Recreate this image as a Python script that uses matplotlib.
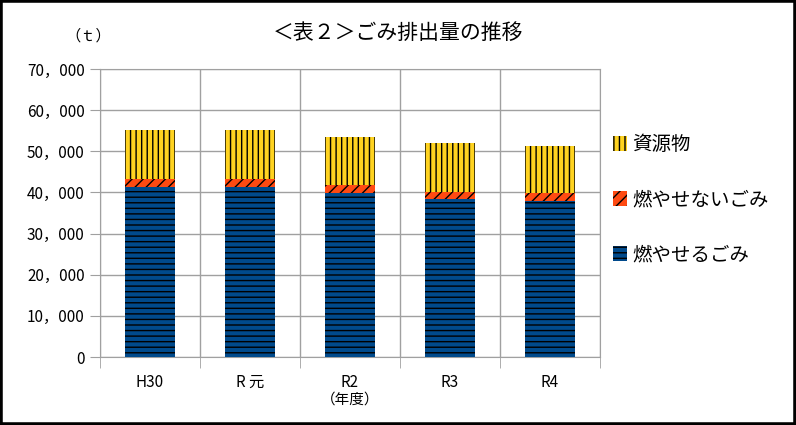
import numpy as np
import matplotlib
matplotlib.use("Agg")
import matplotlib.pyplot as plt
import matplotlib.patches as mpatches
from matplotlib.ticker import FuncFormatter, FixedLocator

plt.rcParams["font.family"] = ["Noto Sans CJK JP", "DejaVu Sans"]
plt.rcParams["hatch.linewidth"] = 1.0

# データ（t）
years = ["H30", "R 元", "R2", "R3", "R4"]
moyaseru = [41400, 41400, 39900, 38400, 37900]      # 燃やせるごみ
moyasenai = [1800, 1800, 1900, 1800, 1900]          # 燃やせないごみ
shigen = [12000, 11900, 11700, 11700, 11500]        # 資源物

W, H = 796, 425
fig = plt.figure(figsize=(W / 100, H / 100), dpi=100)
ax = fig.add_axes([100 / W, (H - 357) / H, 500 / W, 288 / H])

grid_c = "#a0a0a0"
x = np.arange(len(years))
bw = 0.5
b1 = ax.bar(x, moyaseru, bw, color="#004a8c", edgecolor="black", lw=0, hatch="---", zorder=3)
bottom2 = np.array(moyaseru)
b2 = ax.bar(x, moyasenai, bw, bottom=bottom2, color="#ff4a12", edgecolor="black", lw=0, hatch="///", zorder=3)
bottom3 = bottom2 + np.array(moyasenai)
b3 = ax.bar(x, shigen, bw, bottom=bottom3, color="#ffd320", edgecolor="black", lw=0, hatch="|||", zorder=3)

ax.set_xlim(-0.5, len(years) - 0.5)
ax.set_ylim(0, 70000)
ax.set_yticks(np.arange(0, 70001, 10000))
ax.yaxis.set_major_formatter(FuncFormatter(lambda v, p: f"{int(v):,}".replace(",", "，")))
ax.set_xticks(x)
ax.set_xticklabels(years)
ax.xaxis.set_minor_locator(FixedLocator(np.arange(-0.5, len(years), 1.0)))
ax.tick_params(axis="x", which="major", length=0, pad=12, labelsize=11)
ax.tick_params(axis="x", which="minor", length=8, color=grid_c)
ax.tick_params(axis="y", length=7, color=grid_c, labelsize=11, pad=4)
ax.grid(axis="y", color=grid_c, lw=1, zorder=0)
ax.grid(axis="x", which="minor", color=grid_c, lw=1, zorder=0)
for s in ax.spines.values():
    s.set_color(grid_c)

fig.text(350 / W, 1 - 400 / H, "（年度）", ha="center", va="center", fontsize=10.5)
fig.text(88 / W, 1 - 36 / H, "（ｔ）", ha="center", va="center", fontsize=11)
fig.text(398 / W, 1 - 33 / H, "＜表２＞ごみ排出量の推移", ha="center", va="center", fontsize=15)

handles = [b3, b2, b1]
labels = ["資源物", "燃やせないごみ", "燃やせるごみ"]
fig.legend(handles, labels, loc="center left", bbox_to_anchor=(595 / W, 1 - 200 / H),
           frameon=False, fontsize=14, handlelength=0.75, handleheight=0.8,
           handletextpad=0.25, labelspacing=1.75)

fig.add_artist(mpatches.Rectangle((0, 0), 1, 1, transform=fig.transFigure,
                                  fill=False, edgecolor="black", lw=4))

fig.savefig("out.png", dpi=100)
